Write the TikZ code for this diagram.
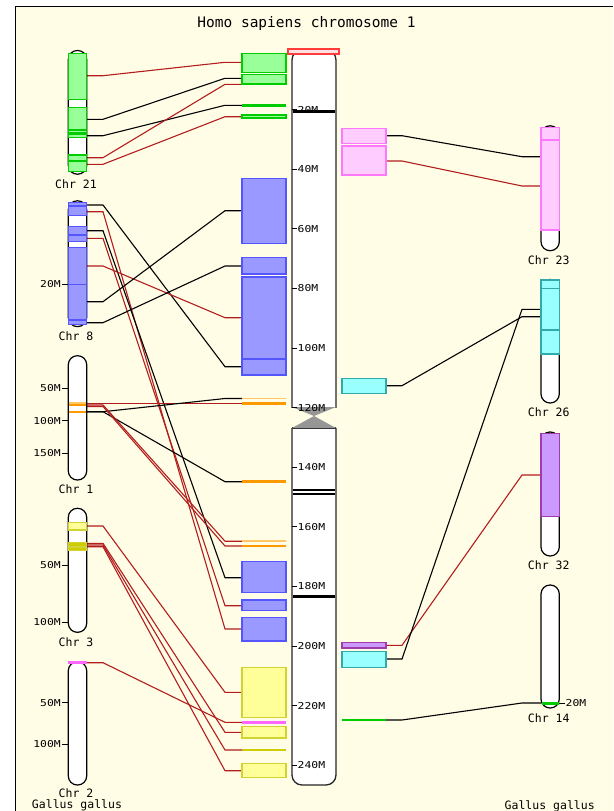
\documentclass[tikz,border=0pt]{standalone}
\usepackage{fontspec}
\newfontfamily\monof{DejaVu Sans Mono}
\newfontfamily\pixf[FakeStretch=1.2]{DejaVu Sans Mono}
\definecolor{bg}{RGB}{255,253,230}
\definecolor{gfill}{RGB}{153,255,153}
\definecolor{gline}{RGB}{0,204,0}
\definecolor{bfill}{RGB}{153,153,255}
\definecolor{bline}{RGB}{85,85,255}
\definecolor{ofill}{RGB}{255,153,0}
\definecolor{olight}{RGB}{255,200,100}
\definecolor{pfill}{RGB}{255,204,255}
\definecolor{pline}{RGB}{255,119,255}
\definecolor{mag}{RGB}{255,102,255}
\definecolor{yfill}{RGB}{255,255,153}
\definecolor{yline}{RGB}{210,210,50}
\definecolor{olive}{RGB}{204,204,0}
\definecolor{cfill}{RGB}{153,255,255}
\definecolor{cline}{RGB}{51,170,170}
\definecolor{vfill}{RGB}{204,153,255}
\definecolor{vline}{RGB}{160,60,170}
\definecolor{cred}{RGB}{178,30,30}
\definecolor{cgrey}{RGB}{150,150,150}
\definecolor{topred}{RGB}{255,60,60}
\newcommand\linkL[4]{\coordinate (#1s) at (86.7,#3); \coordinate (#1d) at (242,#4);
  \draw[#2] (#1s) -- ([xshift=16.3pt]#1s) -- ([xshift=-17pt]#1d) -- (#1d);}
\newcommand\linkR[4]{\coordinate (#1s) at (386,#3); \coordinate (#1d) at (541,#4);
  \draw[#2] (#1s) -- ([xshift=16pt]#1s) -- ([xshift=-19pt]#1d) -- (#1d);}
\newcommand\bandL[3]{\filldraw[#1] (68.3,#2) rectangle (86.7,#3);}
\newcommand\bandR[3]{\filldraw[#1] (541,#2) rectangle (559.3,#3);}
\newcommand\boxHL[3]{\filldraw[#1] (242,#2) rectangle (286,#3);}
\newcommand\boxHR[3]{\filldraw[#1] (342,#2) rectangle (386,#3);}
\begin{document}
\begin{tikzpicture}[x=1pt,y=-1pt,
  cr/.style={draw=cred, line width=1.1},
  cb/.style={draw=black, line width=1.1},
  chrom/.style={fill=white, draw=black, line width=1.2, rounded corners=9},
  hchrom/.style={fill=white, draw=black!85, line width=1.3, rounded corners=10},
  gb/.style={fill=gfill, draw=gline, line width=1.2},
  bb/.style={fill=bfill, draw=bline, line width=1.2},
  pb/.style={fill=pfill, draw=pline, line width=1.2},
  yb/.style={fill=yfill, draw=yline, line width=1.2},
  ob/.style={fill=olive, draw=yline, line width=0.8},
  cyb/.style={fill=cfill, draw=cline, line width=1.2},
  vb/.style={fill=vfill, draw=vline, line width=1.2},
  thick band/.style={line width=2.6},
  lab/.style={font=\monof\fontsize{11.5}{12}\selectfont, inner sep=0pt, anchor=base},
  titl/.style={font=\monof\fontsize{14.5}{15}\selectfont, inner sep=0pt, anchor=base},
  tk/.style={font=\pixf\fontsize{9.5}{10}\selectfont, inner sep=0pt}]
\useasboundingbox (0,0) rectangle (613,811);
\fill[white] (0,0) rectangle (613,811);
\fill[bg] (15.5,6.2) rectangle (613,811);
\draw[line width=1.3] (15.5,811) -- (15.5,6.2) -- (613,6.2);

\node[titl] (title) at (306.5,27.7) {Homo sapiens chromosome 1};

% ---------- connectors, left ----------
\linkL{a1}{cr}{75.7}{62.3}
\linkL{a2}{cb}{119.3}{78.3}
\linkL{a3}{cb}{135.7}{105.3}
\linkL{a4}{cr}{157.7}{84.3}
\linkL{a5}{cr}{164.3}{116.7}
\linkL{b1}{cb}{205}{366.7}
\linkL{b2}{cr}{211.7}{629}
\linkL{b3}{cb}{230.7}{577.7}
\linkL{b4}{cr}{238.3}{605.7}
\linkL{b5}{cr}{266}{317.7}
\linkL{b6}{cb}{301.7}{210.7}
\linkL{b7}{cb}{322.7}{266}
\linkL{c1}{cr}{403.3}{403.3}
\linkL{c2}{cb}{411.7}{398.5}
\linkL{c3}{cb}{411.7}{481.7}
\linkL{c4}{cr}{405}{541.2}
\linkL{c5}{cr}{406.5}{546}
\linkL{d1}{cr}{526}{692.3}
\linkL{d2}{cr}{543.3}{732.3}
\linkL{d3}{cr}{545}{750}
\linkL{d4}{cr}{546.7}{770.7}
\linkL{e1}{cr}{662.7}{722.3}
% ---------- connectors, right ----------
\linkR{f1}{cb}{135.7}{156.7}
\linkR{f2}{cr}{161}{186}
\linkR{f3}{cb}{385.7}{316.7}
\linkR{f4}{cr}{645.3}{475}
\linkR{f5}{cb}{659}{309.3}
\linkR{f6}{cb}{720}{703}

% ---------- human chromosome 1 ----------
\begin{scope}
  \clip (280,40) rectangle (350,407);
  \filldraw[hchrom] (292,50) rectangle (336,430);
\end{scope}
\begin{scope}
  \clip (280,428) rectangle (350,800);
  \filldraw[hchrom] (292,410) rectangle (336,785);
\end{scope}
\draw[black!85, line width=1.3] (292,428) -- (336,428);
\fill[cgrey] (292,407) -- (336,407) -- (314,416) -- cycle;
\fill[cgrey] (314,416) -- (336,428) -- (292,428) -- cycle;
\draw[line width=3] (292.6,111.5) -- (335.4,111.5);
\draw[line width=1.7] (292.6,490) -- (335.4,490);
\draw[line width=1.7] (292.6,494) -- (335.4,494);
\draw[line width=2.6] (292.6,596.7) -- (335.4,596.7);
\foreach \m in {20,40,...,240} {
  \pgfmathsetmacro\yy{50+2.98*\m}
  \draw[line width=0.9] (292,\yy) -- (297,\yy);
  \node[tk, anchor=west] (h\m) at (297.5,\yy) {\m M};
}
\filldraw[fill=red!12, draw=topred, line width=1.1] (288,49) rectangle (339,54);

% human boxes, left column
\boxHL{gb}{53.3}{72.7}
\boxHL{gb}{74.3}{84}
\draw[gline, thick band] (242,105.7) -- (286,105.7);
\boxHL{gb}{114.9}{117.9}
\boxHL{bb}{178.3}{243.3}
\boxHL{bb}{257.7}{274}
\boxHL{bb}{277}{359}
\boxHL{bb}{359}{375}
\draw[olight, line width=1.6] (242,398.5) -- (286,398.5);
\draw[ofill, thick band] (242,403.3) -- (286,403.3);
\draw[ofill, thick band] (242,481.7) -- (286,481.7);
\draw[olight, line width=1.6] (242,541.2) -- (286,541.2);
\draw[ofill, thick band] (242,546) -- (286,546);
\boxHL{bb}{561.7}{592.7}
\boxHL{bb}{600}{610.7}
\boxHL{bb}{617.3}{641}
\boxHL{yb}{667.3}{717.3}
\draw[mag, thick band] (242,722.7) -- (286,722.7);
\boxHL{yb}{726.7}{738}
\draw[olive, thick band] (242,750) -- (286,750);
\boxHL{yb}{763.3}{777.7}

% human boxes, right column
\boxHR{pb}{128.3}{143.3}
\boxHR{pb}{146}{175}
\boxHR{cyb}{378.3}{393.3}
\boxHR{vb}{642.7}{648}
\boxHR{cyb}{651.7}{667.7}
\draw[gline, thick band] (342,720) -- (386,720);

% ---------- Gallus chromosomes, left ----------
% Chr 21
\filldraw[chrom] (68.3,50.5) rectangle (86.7,174.2);
\bandL{gb}{53.3}{99.3}
\bandL{gb}{107.7}{130}
\bandL{gb}{130}{132.7}
\bandL{gb}{134}{137.3}
\bandL{gb}{155}{161}
\bandL{gb}{161}{171.7}
\node[lab] (chr21) at (76,188) {Chr 21};
% Chr 8
\filldraw[chrom] (68.3,200.8) rectangle (86.7,326.6);
\bandL{bb}{202.3}{206}
\bandL{bb}{206}{215.7}
\bandL{bb}{226.7}{235}
\bandL{bb}{235}{241.7}
\bandL{bb}{247.7}{284.3}
\bandL{bb}{284.3}{320}
\bandL{bb}{320}{324.3}
\draw[line width=0.9] (62,284.3) -- (68.3,284.3);
\node[tk, anchor=east] (t8a) at (61,284.3) {20M};
\node[lab] (chr8) at (76,340.7) {Chr 8};
% Chr 1
\filldraw[chrom] (68.3,355.7) rectangle (86.7,480);
\fill[olight] (68.9,402) rectangle (86.1,404);
\fill[ofill] (68.9,404.4) rectangle (86.1,406.2);
\fill[ofill] (68.9,410.8) rectangle (86.1,412.8);
\foreach \yy/\tt in {388.3/50M, 420.7/100M, 453.3/150M} {
  \draw[line width=0.9] (62,\yy) -- (68.3,\yy);
  \node[tk, anchor=east] at (61,\yy) {\tt};
}
\node[lab] (chr1) at (76,493.3) {Chr 1};
% Chr 3
\filldraw[chrom] (68.3,508.3) rectangle (86.7,632.3);
\bandL{yb}{522.7}{530}
\bandL{ob}{542.7}{546.4}
\bandL{ob}{547}{550.7}
\foreach \yy/\tt in {565/50M, 622.3/100M} {
  \draw[line width=0.9] (62,\yy) -- (68.3,\yy);
  \node[tk, anchor=east] at (61,\yy) {\tt};
}
\node[lab] (chr3) at (76,646) {Chr 3};
% Chr 2
\filldraw[chrom] (68.3,661.7) rectangle (86.7,785);
\fill[mag] (67.7,660.8) rectangle (87.3,664);
\foreach \yy/\tt in {702.7/50M, 744/100M} {
  \draw[line width=0.9] (62,\yy) -- (68.3,\yy);
  \node[tk, anchor=east] at (61,\yy) {\tt};
}
\node[lab] (chr2) at (76,797.3) {Chr 2};
\node[lab] (gall) at (77,808.8) {Gallus gallus};

% ---------- Gallus chromosomes, right ----------
% Chr 23
\filldraw[chrom] (541,125.8) rectangle (559.3,250.7);
\bandR{pb}{127.3}{140}
\bandR{pb}{140}{230}
\node[lab] (chr23) at (548.7,264.3) {Chr 23};
% Chr 26
\filldraw[chrom] (541,279.5) rectangle (559.3,403);
\bandR{cyb}{280}{288.3}
\bandR{cyb}{288.3}{330}
\bandR{cyb}{330}{354}
\node[lab] (chr26) at (548.7,416.7) {Chr 26};
% Chr 32
\filldraw[chrom] (541,432) rectangle (559.3,556);
\bandR{vb}{433.3}{516.7}
\node[lab] (chr32) at (548.7,569.3) {Chr 32};
% Chr 14
\filldraw[chrom] (541,585) rectangle (559.3,708);
\draw[gline, thick band] (541.6,703.3) -- (558.7,703.3);
\draw[line width=0.9] (559.3,703.3) -- (565,703.3);
\node[tk, anchor=west] (t14) at (565.5,703.3) {20M};
\node[lab] (chr14) at (548.7,722.3) {Chr 14};
\node[lab] (galr) at (549.7,809.3) {Gallus gallus};
\end{tikzpicture}
\end{document}
